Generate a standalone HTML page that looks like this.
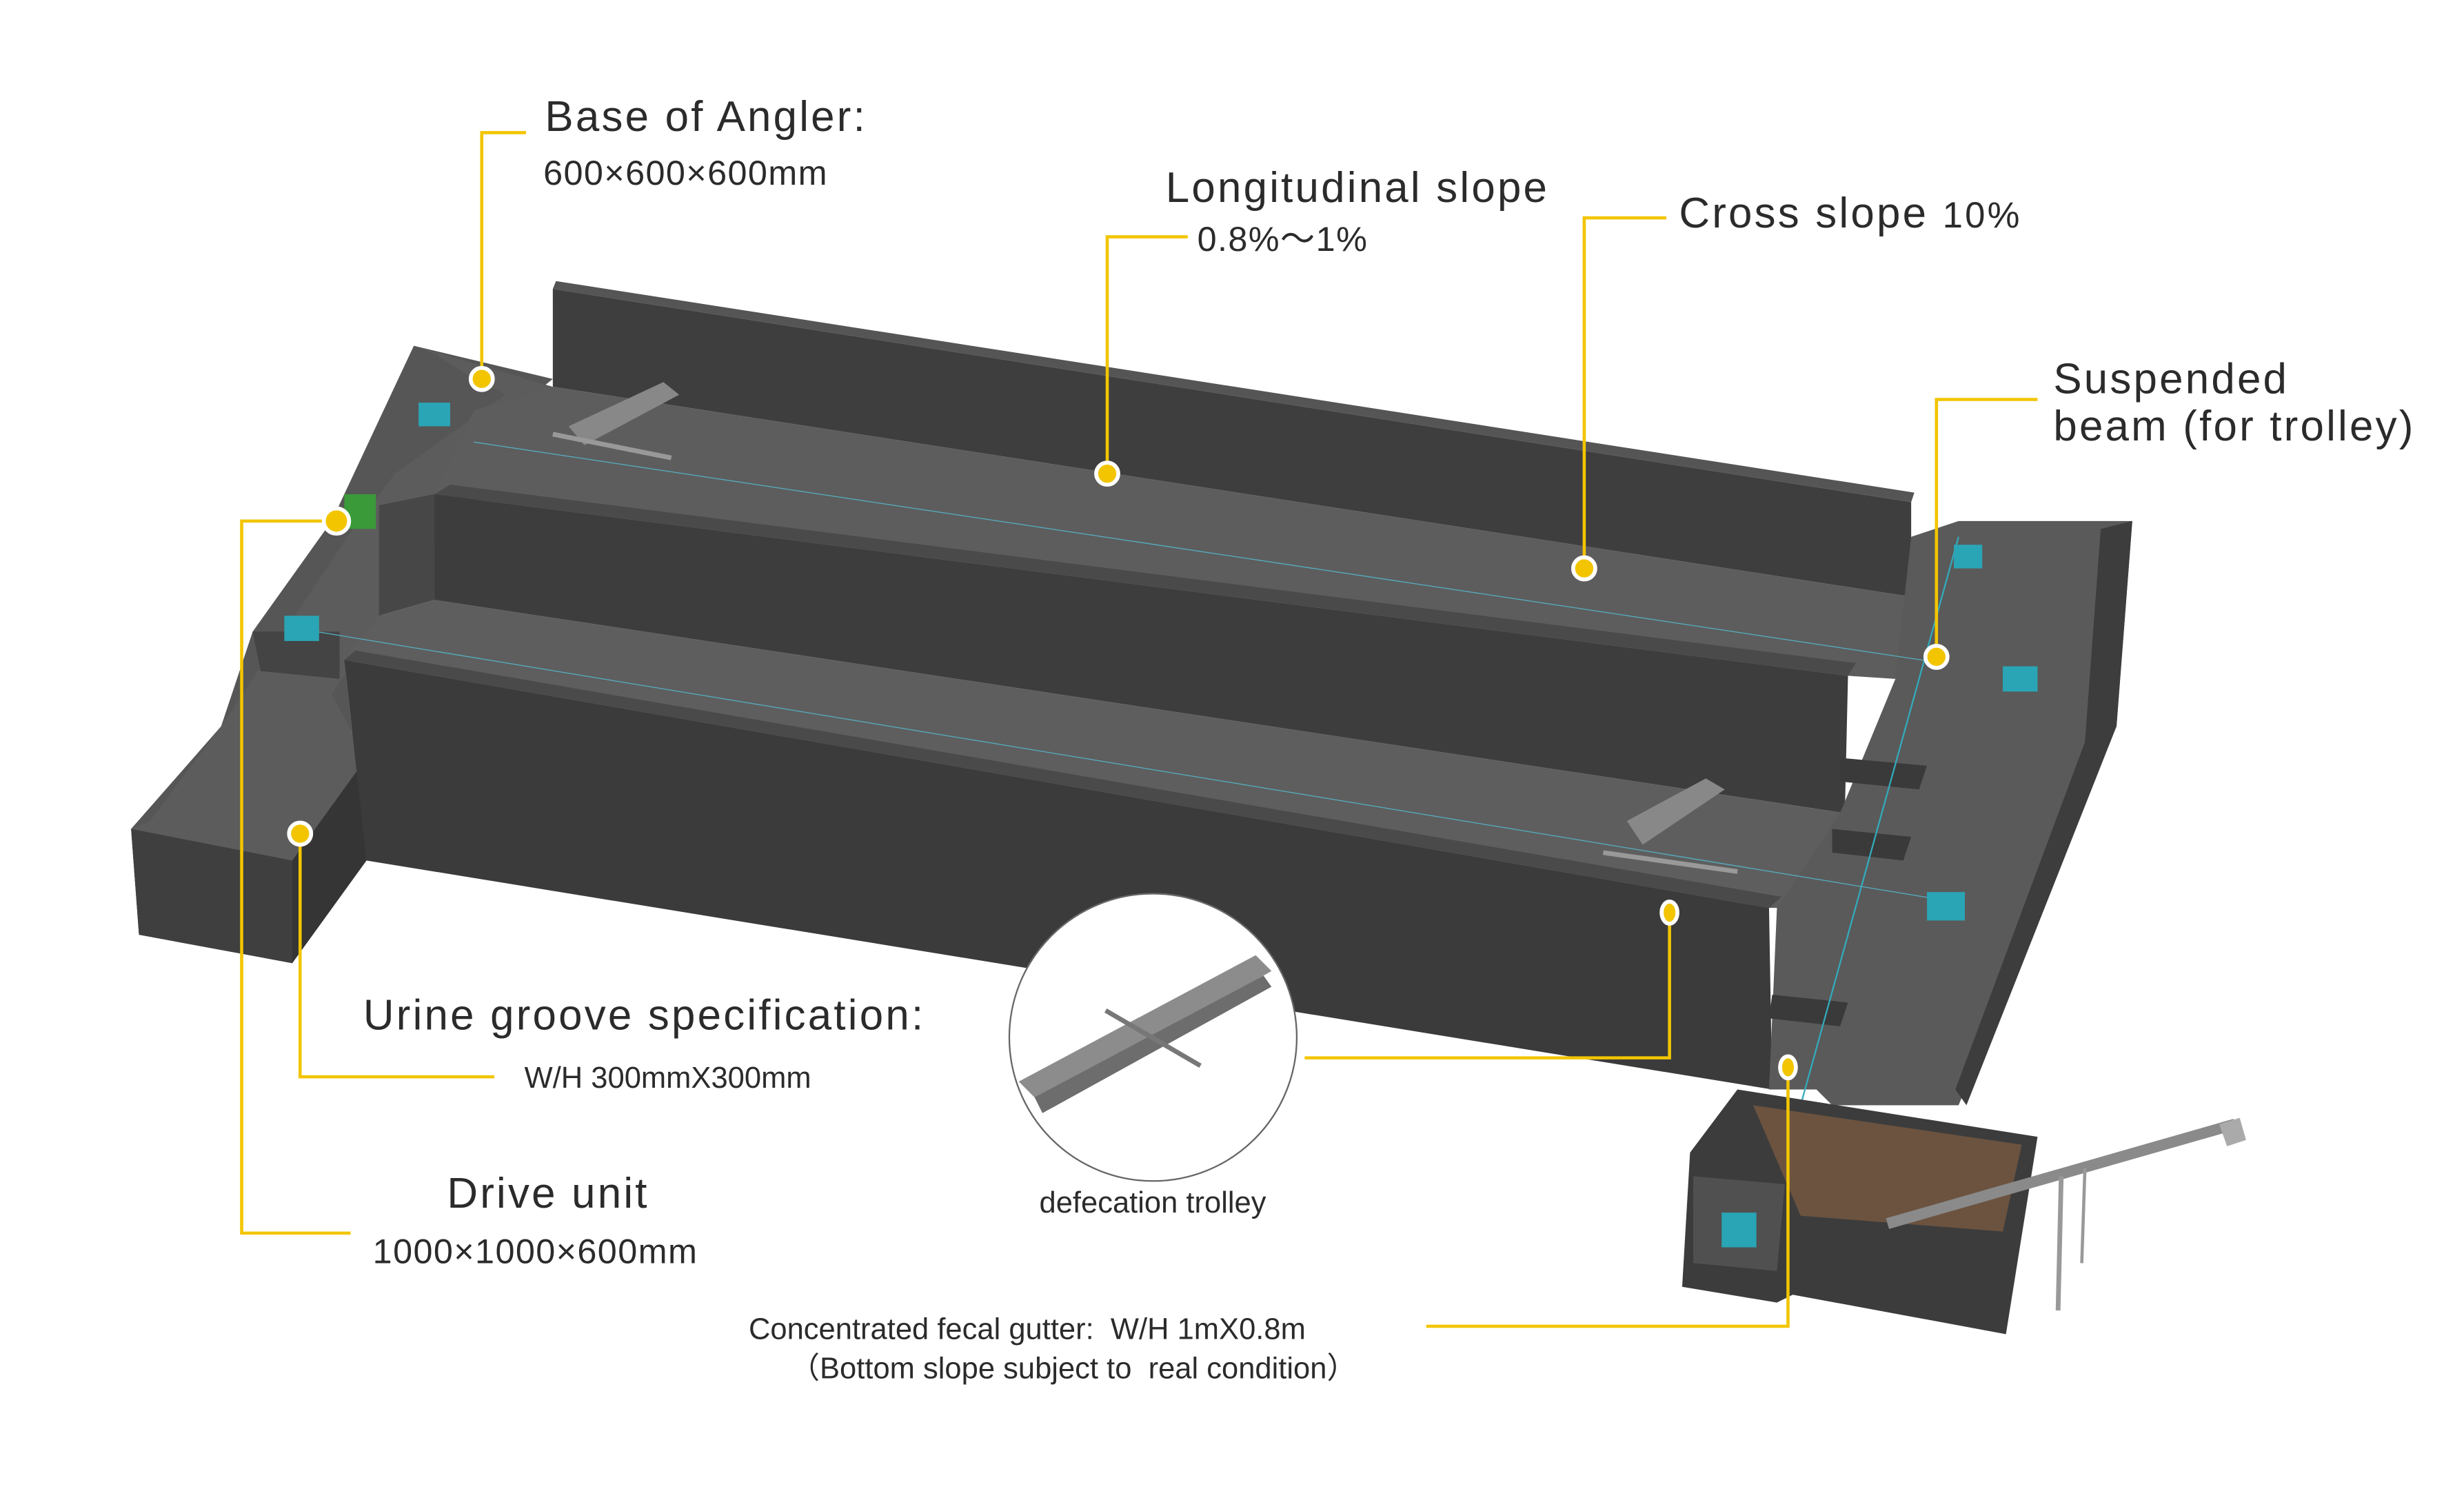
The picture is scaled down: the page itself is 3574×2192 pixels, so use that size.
<!DOCTYPE html>
<html><head><meta charset="utf-8"><style>
html,body{margin:0;padding:0;background:#fff}
svg{display:block}
text{font-family:"Liberation Sans",sans-serif;fill:#2b2b2b}
.b{letter-spacing:1.4px}
.s{letter-spacing:0.6px}
</style></head><body>
<svg width="3574" height="2192" viewBox="0 0 1560 957" preserveAspectRatio="none" xmlns="http://www.w3.org/2000/svg">
<rect width="1560" height="957" fill="#fff"/>
<!-- left footprint background -->
<polygon points="262,219 350,240 300,280 275,313 240,390 218,418 232,545 185,610 88,592 83,525 140,460 160,400 210,330" fill="#565656"/>
<!-- left L structure -->
<polygon points="262,219 275,224 300,240 320,250 250,300 220,340 180,400 140,460 95,520 83,525 88,592 185,610 232,545 232,480 210,440 260,360 300,320 350,245" fill="#5c5c5c"/>
<polygon points="83,525 88,592 185,610 185,545" fill="#3f3f3f"/>
<polygon points="185,545 185,610 232,545 232,480" fill="#353535"/>
<polygon points="160,400 215,400 215,430 165,425" fill="#444"/>
<polygon points="240,320 275,313 275,380 240,390" fill="#474747"/>
<!-- back wall -->
<polygon points="350,183 1210,318 1210,378 350,245" fill="#3e3e3e"/>
<polygon points="350,183 1210,318 1212,312 352,178" fill="#555"/>
<!-- upper lane floor -->
<polygon points="350,245 1210,378 1200,430 1170,428 275,313 300,260" fill="#5d5d5d"/>
<!-- middle wall -->
<polygon points="275,313 1170,428 1168,515 275,380" fill="#3d3d3d"/>
<polygon points="275,313 1170,428 1175,420 285,307" fill="#4a4a4a"/>
<!-- lower lane floor -->
<polygon points="275,380 1168,515 1160,575 1120,575 218,418 240,390" fill="#5e5e5e"/>
<!-- front wall -->
<polygon points="218,418 1120,575 1122,690 232,545" fill="#3b3b3b"/>
<polygon points="218,418 1120,575 1128,568 225,412" fill="#4a4a4a"/>
<!-- right structure -->
<polygon points="1210,340 1240,330 1350,330 1340,460 1240,700 1160,700 1150,690 1120,690 1125,575 1165,515 1200,430" fill="#5a5a5a"/>
<polygon points="1330,335 1350,330 1340,460 1245,700 1238,690 1320,470" fill="#3d3d3d"/>
<polygon points="1165,480 1220,485 1215,500 1165,495" fill="#3a3a3a"/>
<polygon points="1160,525 1210,530 1205,545 1160,540" fill="#3a3a3a"/>
<polygon points="1122,630 1170,635 1165,650 1120,645" fill="#3a3a3a"/>
<line x1="1240" y1="340" x2="1140" y2="700" stroke="#3ab" stroke-width="1"/>
<line x1="300" y1="280" x2="1230" y2="420" stroke="#5ab" stroke-width="0.6"/>
<line x1="200" y1="400" x2="1230" y2="570" stroke="#5ab" stroke-width="0.6"/>
<!-- bottom right box -->
<polygon points="1100,690 1290,720 1270,845 1135,820 1125,825 1065,815 1070,730" fill="#3c3c3c"/>
<polygon points="1110,700 1280,725 1268,780 1140,770" fill="#6b5340"/>
<polygon points="1072,745 1130,750 1125,805 1072,800" fill="#505050"/>
<!-- conveyor -->
<line x1="1195" y1="775" x2="1415" y2="712" stroke="#8a8a8a" stroke-width="7"/>
<polygon points="1405,712 1418,708 1422,722 1410,726" fill="#aaa"/>
<line x1="1305" y1="745" x2="1303" y2="830" stroke="#999" stroke-width="3"/>
<line x1="1320" y1="740" x2="1318" y2="800" stroke="#999" stroke-width="2"/>
<!-- motors -->
<rect x="265" y="255" width="20" height="15" fill="#2aa5b5"/>
<rect x="180" y="390" width="22" height="16" fill="#2aa5b5"/>
<rect x="218" y="313" width="20" height="22" fill="#3a9a3a"/>
<rect x="1237" y="345" width="18" height="15" fill="#2aa5b5"/>
<rect x="1268" y="422" width="22" height="16" fill="#2aa5b5"/>
<rect x="1220" y="565" width="24" height="18" fill="#2aa5b5"/>
<rect x="1090" y="768" width="22" height="22" fill="#2aa5b5"/>
<!-- trolleys -->
<polygon points="360,270 420,242 430,250 370,282" fill="#888"/>
<line x1="350" y1="275" x2="425" y2="290" stroke="#999" stroke-width="3"/>
<polygon points="1030,520 1080,493 1092,500 1040,535" fill="#888"/>
<line x1="1015" y1="540" x2="1100" y2="552" stroke="#999" stroke-width="3"/>
<!-- inset circle -->
<circle cx="730" cy="657" r="91" fill="#fff" stroke="#666" stroke-width="1"/>
<polygon points="645,685 795,605 805,615 660,700" fill="#8c8c8c"/>
<polygon points="655,695 800,618 805,625 660,705" fill="#6d6d6d"/>
<line x1="700" y1="640" x2="760" y2="675" stroke="#777" stroke-width="3"/>
<!-- leader lines -->
<g stroke="#f2c500" stroke-width="2" fill="none">
<polyline points="333,84 305,84 305,240"/>
<polyline points="752,150 701,150 701,300"/>
<polyline points="1055,138 1003,138 1003,360"/>
<polyline points="1290,253 1226,253 1226,416"/>
<polyline points="313,682 190,682 190,528"/>
<polyline points="222,781 153,781 153,330 213,330"/>
<polyline points="826,670 1057,670 1057,578"/>
<polyline points="903,840 1132,840 1132,676"/>
</g>
<g fill="#f2c500" stroke="#fff" stroke-width="2.5">
<circle cx="305" cy="240" r="7"/><circle cx="701" cy="300" r="7"/>
<circle cx="1003" cy="360" r="7"/><circle cx="1226" cy="416" r="7"/>
<circle cx="190" cy="528" r="7"/><circle cx="213" cy="330" r="8"/>
<ellipse cx="1057" cy="578" rx="5" ry="7"/><ellipse cx="1132" cy="676" rx="5" ry="7"/>
</g>
<!-- labels -->
<text class="b" x="345" y="83" font-size="27">Base of Angler:</text>
<text class="s" x="344" y="117" font-size="22">600×600×600mm</text>
<text class="b" x="738" y="128" font-size="27">Longitudinal slope</text>
<text class="s" x="758" y="159" font-size="22">0.8%～1%</text>
<text class="b" x="1063" y="144" font-size="27">Cross slope <tspan font-size="23">10%</tspan></text>
<text class="b" x="1300" y="249" font-size="27">Suspended</text>
<text class="b" x="1300" y="279" font-size="27">beam (for trolley)</text>
<text class="b" x="230" y="652" font-size="27">Urine groove specification:</text>
<text x="332" y="689" font-size="19">W/H 300mmX300mm</text>
<text class="b" x="283" y="765" font-size="27">Drive unit</text>
<text class="s" x="236" y="800" font-size="22">1000×1000×600mm</text>
<text x="658" y="768" font-size="19">defecation trolley</text>
<text x="474" y="848" font-size="19" xml:space="preserve">Concentrated fecal gutter:  W/H 1mX0.8m</text>
<text x="500" y="873" font-size="19" xml:space="preserve">（Bottom slope subject to  real condition）</text>
</svg>
</body></html>
